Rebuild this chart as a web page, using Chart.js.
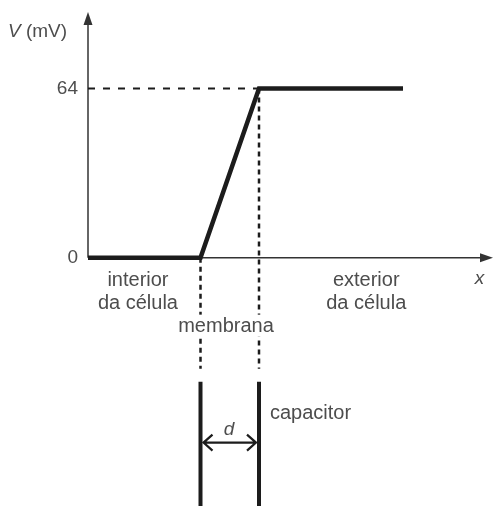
<!DOCTYPE html>
<html>
<head>
<meta charset="utf-8">
<script src="https://cdn.jsdelivr.net/npm/chart.js@4.4.1/dist/chart.umd.min.js"></script>
<style>
  html, body { margin: 0; padding: 0; background: #fff; }
  #wrap { width: 495px; height: 506px; }
</style>
</head>
<body>
<div id="wrap"><canvas id="chart"></canvas></div>
<script>
// -- THE DATA --
const positionX = [0, 7.5, 11.4, 21];   // position across the cell (arbitrary units)
const potentialV = [0, 0, 64, 64];      // V (mV)
const yTicks = [0, 64];                 // tick labels on the V axis
const membrane = [7.5, 11.4];           // inner and outer edge of the membrane
const regionText = ['interior', 'da célula', 'exterior', 'da célula', 'membrana'];
const capacitorText = 'capacitor';
const gapText = 'd';
const axisText = ['V', ' (mV)', 'x'];

// -- THE CHART --
const ink = '#1c1c1c';
const grey = '#4d4d4d';
const font = '"Liberation Sans", Arial, sans-serif';

// little helper to make a two point line dataset
function segment(x0, y0, x1, y1, width, dash) {
  return {
    data: [{x: x0, y: y0}, {x: x1, y: y1}],
    showLine: true,
    borderColor: ink,
    borderWidth: width,
    borderDash: dash || [],
    pointRadius: 0
  };
}

const drawing = {
  id: 'drawing',
  beforeDatasetsDraw(chart) {
    const {ctx, chartArea, scales: {x, y}} = chart;
    const x0 = x.getPixelForValue(0), y0 = y.getPixelForValue(0);
    ctx.save();
    ctx.strokeStyle = '#333';
    ctx.fillStyle = '#333';
    ctx.lineWidth = 1.5;
    // V axis with arrow
    ctx.beginPath();
    ctx.moveTo(x0, y0);
    ctx.lineTo(x0, chartArea.top + 8);
    ctx.stroke();
    ctx.beginPath();
    ctx.moveTo(x0, chartArea.top);
    ctx.lineTo(x0 - 4.5, chartArea.top + 13);
    ctx.lineTo(x0 + 4.5, chartArea.top + 13);
    ctx.closePath();
    ctx.fill();
    // x axis with arrow
    ctx.beginPath();
    ctx.moveTo(x0, y0);
    ctx.lineTo(chartArea.right - 8, y0);
    ctx.stroke();
    ctx.beginPath();
    ctx.moveTo(chartArea.right, y0);
    ctx.lineTo(chartArea.right - 13, y0 - 4.5);
    ctx.lineTo(chartArea.right - 13, y0 + 4.5);
    ctx.closePath();
    ctx.fill();
    ctx.restore();
  },
  afterDraw(chart) {
    const {ctx, chartArea, scales: {x, y}} = chart;
    const px = v => x.getPixelForValue(v), py = v => y.getPixelForValue(v);
    ctx.save();
    ctx.fillStyle = grey;
    ctx.font = '20px ' + font;
    ctx.textAlign = 'center';
    ctx.textBaseline = 'alphabetic';
    ctx.fillText(regionText[0], px(3.33), py(-10.6));
    ctx.fillText(regionText[1], px(3.33), py(-19.3));
    ctx.fillText(regionText[2], px(18.55), py(-10.6));
    ctx.fillText(regionText[3], px(18.55), py(-19.3));

    // membrana sits on a white patch that breaks the dashed guides
    const mw = ctx.measureText(regionText[4]).width;
    ctx.fillStyle = '#fff';
    ctx.fillRect(px(9.2) - mw / 2 - 2, py(-28) - 17, mw + 4, 22);
    ctx.fillStyle = grey;
    ctx.fillText(regionText[4], px(9.2), py(-28));
    ctx.textAlign = 'left';
    ctx.fillText(capacitorText, px(12.13), py(-61));

    // italic symbols
    ctx.font = 'italic 19px ' + font;
    ctx.textAlign = 'center';
    ctx.fillText(axisText[2], px(26.1), py(-10));
    ctx.fillText(gapText, px(9.4), py(-67));

    // V (mV) title left of the axis
    ctx.textAlign = 'left';
    const tx = 8, ty = chartArea.top + 25;
    ctx.fillText(axisText[0], tx, ty);
    const w = ctx.measureText(axisText[0]).width;
    ctx.font = '19px ' + font;
    ctx.fillText(axisText[1], tx + w, ty);

    // d arrow between the plates
    const ya = py(-70), xa = px(membrane[0]) + 3, xb = px(membrane[1]) - 3;
    ctx.strokeStyle = ink;
    ctx.lineWidth = 2.2;
    ctx.beginPath();
    ctx.moveTo(xa, ya); ctx.lineTo(xb, ya);
    ctx.moveTo(xa + 9, ya - 8); ctx.lineTo(xa, ya); ctx.lineTo(xa + 9, ya + 8);
    ctx.moveTo(xb - 9, ya - 8); ctx.lineTo(xb, ya); ctx.lineTo(xb - 9, ya + 8);
    ctx.stroke();
    ctx.restore();
  }
};

new Chart(document.getElementById('chart'), {
  type: 'scatter',
  data: {
    datasets: [
      {
        label: 'V (mV)',
        data: positionX.map((v, i) => ({x: v, y: potentialV[i]})),
        showLine: true,
        borderColor: ink,
        borderWidth: 4.5,
        borderJoinStyle: 'miter',
        pointRadius: 0
      },
      // dashed guides
      segment(0, potentialV[3], membrane[1], potentialV[3], 2, [7, 8]),
      segment(membrane[1], potentialV[3], membrane[1], -42, 2.5, [5, 4]),
      segment(membrane[0], 0, membrane[0], -42, 2.5, [5, 4]),
      // capacitor plates
      segment(membrane[0], -47, membrane[0], -94, 4),
      segment(membrane[1], -47, membrane[1], -94, 4)
    ]
  },
  options: {
    responsive: true,
    maintainAspectRatio: false,
    animation: false,
    layout: { padding: { top: 12, right: 2, bottom: 0, left: 0 } },
    plugins: {
      legend: { display: false },
      tooltip: { enabled: false }
    },
    scales: {
      x: { type: 'linear', min: 0, max: 27, display: false },
      y: {
        type: 'linear',
        min: -94,
        max: 93,
        afterBuildTicks: scale => { scale.ticks = yTicks.map(v => ({value: v})); },
        afterFit: scale => {
          scale.width = 88;
          scale.paddingTop = 0;
          scale.paddingBottom = 0;
        },
        grid: { display: false, drawTicks: false },
        border: { display: false },
        ticks: {
          padding: 10,
          color: grey,
          font: { size: 19, family: font }
        }
      }
    }
  },
  plugins: [drawing]
});
</script>
</body>
</html>
